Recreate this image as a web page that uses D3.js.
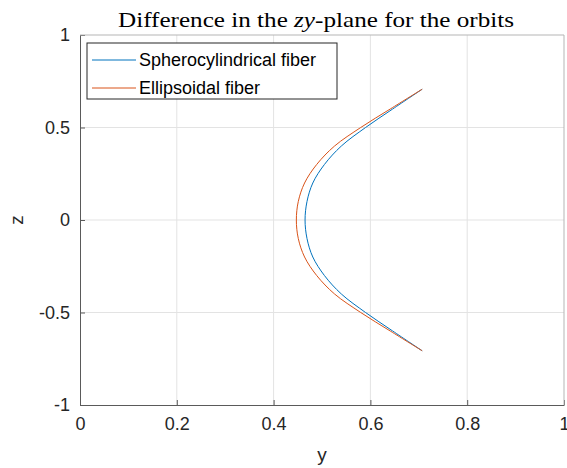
<!DOCTYPE html>
<html>
<head>
<meta charset="utf-8">
<script src="https://cdn.jsdelivr.net/npm/d3@7"></script>
<style>
  body { margin: 0; background: #fff; }
  svg { display: block; }
</style>
</head>
<body>
<div id="chart"></div>
<script>
// values (upper half, z >= 0); the orbit is mirrored in z
const zValues = [0, 0.1, 0.2, 0.3, 0.4, 0.5, 0.6, 0.707];
const sphereY = [0.465, 0.469, 0.481, 0.505, 0.540, 0.590, 0.646, 0.707];
const ellipseY = [0.447, 0.451, 0.464, 0.489, 0.526, 0.580, 0.641, 0.707];

const seriesNames = ["Spherocylindrical fiber", "Ellipsoidal fiber"];
const seriesColors = ["#0072BD", "#D95319"];
const xTicks = [0, 0.2, 0.4, 0.6, 0.8, 1];
const yTicks = [-1, -0.5, 0, 0.5, 1];

const width = 567, height = 468;
const margin = {top: 35, right: 3, bottom: 63, left: 80};

const svg = d3.select("#chart").append("svg")
    .attr("width", width)
    .attr("height", height);

const x = d3.scaleLinear().domain([0, 1]).range([margin.left, width - margin.right]);
const y = d3.scaleLinear().domain([-1, 1]).range([height - margin.bottom, margin.top]);

const font = "'Liberation Sans', Arial, Helvetica, sans-serif";
const axisColor = "#262626";

// grid
svg.append("g").selectAll("line.vgrid")
    .data(xTicks.slice(1, -1))
    .join("line")
    .attr("x1", d => x(d)).attr("x2", d => x(d))
    .attr("y1", y(-1)).attr("y2", y(1))
    .attr("stroke", "#e3e3e3").attr("stroke-width", 1);

svg.append("g").selectAll("line.hgrid")
    .data(yTicks.slice(1, -1))
    .join("line")
    .attr("x1", x(0)).attr("x2", x(1))
    .attr("y1", d => y(d)).attr("y2", d => y(d))
    .attr("stroke", "#e3e3e3").attr("stroke-width", 1);

// build full orbit (z from +0.707 down to -0.707)
function orbit(ys) {
    let pts = [];
    for (let i = zValues.length - 1; i >= 0; i--) pts.push([ys[i], zValues[i]]);
    for (let i = 1; i < zValues.length; i++) pts.push([ys[i], -zValues[i]]);
    return pts;
}

const line = d3.line()
    .x(d => x(d[0]))
    .y(d => y(d[1]))
    .curve(d3.curveCatmullRom.alpha(0.5));

[sphereY, ellipseY].forEach((s, i) => {
    svg.append("path")
        .datum(orbit(s))
        .attr("d", line)
        .attr("fill", "none")
        .attr("stroke", seriesColors[i])
        .attr("stroke-width", 1);
});

// axes
const xAxis = d3.axisBottom(x).tickValues(xTicks).tickSizeInner(-5).tickSizeOuter(0)
    .tickFormat(d => String(d)).tickPadding(12);
const yAxis = d3.axisLeft(y).tickValues(yTicks).tickSizeInner(-5).tickSizeOuter(0)
    .tickFormat(d => String(d)).tickPadding(10);

const gx = svg.append("g").attr("transform", `translate(0,${y(-1)})`).call(xAxis);
const gy = svg.append("g").attr("transform", `translate(${x(0)},0)`).call(yAxis);

[gx, gy].forEach(g => {
    g.select(".domain").attr("stroke", "#5a5a5a").attr("stroke-width", 1);
    g.selectAll(".tick line").attr("stroke", "#5a5a5a");
    g.selectAll(".tick text")
        .attr("fill", axisColor)
        .style("font-family", font)
        .style("font-size", "18px");
});

// top and right box lines
svg.append("line")
    .attr("x1", x(0)).attr("x2", x(1)).attr("y1", y(1)).attr("y2", y(1))
    .attr("stroke", "#b5b5b5");
svg.append("line")
    .attr("x1", x(1)).attr("x2", x(1)).attr("y1", y(1)).attr("y2", y(-1))
    .attr("stroke", "#b5b5b5");

// axis labels
svg.append("text")
    .attr("x", x(0.5)).attr("y", 461)
    .attr("text-anchor", "middle")
    .attr("fill", axisColor)
    .style("font-family", font).style("font-size", "19px")
    .text("y");

svg.append("text")
    .attr("transform", `translate(23,${y(0)}) rotate(-90)`)
    .attr("text-anchor", "middle")
    .attr("fill", axisColor)
    .style("font-family", font).style("font-size", "19px")
    .text("z");

// title
const title = svg.append("text")
    .attr("x", 316).attr("y", 27)
    .attr("text-anchor", "middle")
    .attr("fill", "#000")
    .attr("textLength", 396)
    .attr("lengthAdjust", "spacingAndGlyphs")
    .style("font-family", "'Liberation Serif', 'DejaVu Serif', serif")
    .style("font-size", "21px");
title.append("tspan").text("Difference in the ");
title.append("tspan").style("font-style", "italic").text("zy");
title.append("tspan").text("-plane for the orbits");

// legend
const legend = svg.append("g").attr("transform", "translate(87,43)");
legend.append("rect")
    .attr("width", 250).attr("height", 56)
    .attr("fill", "#fff").attr("stroke", "#262626").attr("stroke-width", 1);

legend.selectAll("g.item")
    .data(seriesNames)
    .join("g")
    .attr("class", "item")
    .attr("transform", (d, i) => `translate(0,${17 + i * 28})`)
    .each(function (d, i) {
        const g = d3.select(this);
        g.append("line")
            .attr("x1", 5).attr("x2", 49)
            .attr("y1", 0).attr("y2", 0)
            .attr("stroke", seriesColors[i]).attr("stroke-width", 1);
        g.append("text")
            .attr("x", 52).attr("y", 0)
            .attr("dy", "0.35em")
            .attr("fill", "#000")
            .style("font-family", font).style("font-size", "18px")
            .text(d);
    });
</script>
</body>
</html>
